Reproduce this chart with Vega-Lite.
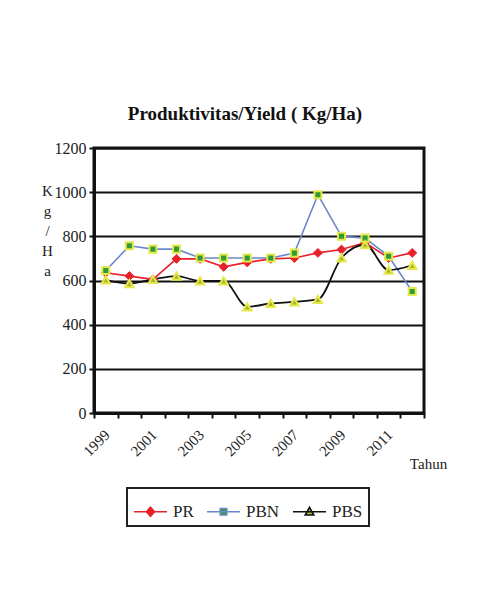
{
  "$schema": "https://vega.github.io/schema/vega-lite/v6.json",
  "autosize": "none",
  "width": 330,
  "height": 265,
  "padding": {"left": 94, "top": 148, "right": 63, "bottom": 179},
  "background": "white",
  "title": {
    "text": "Produktivitas/Yield ( Kg/Ha)",
    "font": "Liberation Serif",
    "fontSize": 19,
    "fontWeight": "bold",
    "color": "#111111",
    "anchor": "middle",
    "dx": -14,
    "offset": 16
  },
  "data": {
    "values": [
      {"year": 1999, "series": "PR", "value": 635},
      {"year": 2000, "series": "PR", "value": 620},
      {"year": 2001, "series": "PR", "value": 605},
      {"year": 2002, "series": "PR", "value": 698},
      {"year": 2003, "series": "PR", "value": 698},
      {"year": 2004, "series": "PR", "value": 662},
      {"year": 2005, "series": "PR", "value": 682},
      {"year": 2006, "series": "PR", "value": 698},
      {"year": 2007, "series": "PR", "value": 702},
      {"year": 2008, "series": "PR", "value": 725},
      {"year": 2009, "series": "PR", "value": 740},
      {"year": 2010, "series": "PR", "value": 772},
      {"year": 2011, "series": "PR", "value": 702},
      {"year": 2012, "series": "PR", "value": 725},
      {"year": 1999, "series": "PBN", "value": 645},
      {"year": 2000, "series": "PBN", "value": 757},
      {"year": 2001, "series": "PBN", "value": 742},
      {"year": 2002, "series": "PBN", "value": 742},
      {"year": 2003, "series": "PBN", "value": 702},
      {"year": 2004, "series": "PBN", "value": 702},
      {"year": 2005, "series": "PBN", "value": 702},
      {"year": 2006, "series": "PBN", "value": 702},
      {"year": 2007, "series": "PBN", "value": 724},
      {"year": 2008, "series": "PBN", "value": 988},
      {"year": 2009, "series": "PBN", "value": 800},
      {"year": 2010, "series": "PBN", "value": 792},
      {"year": 2011, "series": "PBN", "value": 710},
      {"year": 2012, "series": "PBN", "value": 550},
      {"year": 1999, "series": "PBS", "value": 603},
      {"year": 2000, "series": "PBS", "value": 586},
      {"year": 2001, "series": "PBS", "value": 605},
      {"year": 2002, "series": "PBS", "value": 620},
      {"year": 2003, "series": "PBS", "value": 598},
      {"year": 2004, "series": "PBS", "value": 598},
      {"year": 2005, "series": "PBS", "value": 481},
      {"year": 2006, "series": "PBS", "value": 496},
      {"year": 2007, "series": "PBS", "value": 503},
      {"year": 2008, "series": "PBS", "value": 514},
      {"year": 2009, "series": "PBS", "value": 702},
      {"year": 2010, "series": "PBS", "value": 762},
      {"year": 2011, "series": "PBS", "value": 647},
      {"year": 2012, "series": "PBS", "value": 669}
    ]
  },
  "encoding": {
    "x": {
      "field": "year",
      "type": "ordinal",
      "scale": {"paddingInner": 0, "paddingOuter": 0},
      "axis": {
        "title": "Tahun",
        "titleFont": "Liberation Serif",
        "titleFontSize": 15,
        "titleFontWeight": "normal",
        "titleColor": "#222222",
        "titleX": 334,
        "titleY": 50,
        "titleAlign": "center",
        "titleBaseline": "middle",
        "labelExpr": "datum.value % 2 == 1 ? datum.label : ''",
        "labelAngle": -45,
        "labelFont": "Liberation Serif",
        "labelFontSize": 15,
        "labelColor": "#222222",
        "labelPadding": 9,
        "labelOffset": -4,
        "labelOverlap": false,
        "tickBand": "extent",
        "tickColor": "#111111",
        "tickWidth": 2,
        "tickSize": 5,
        "domainColor": "#111111",
        "domainWidth": 3,
        "grid": false
      }
    },
    "y": {
      "field": "value",
      "type": "quantitative",
      "scale": {"domain": [0, 1200]},
      "axis": {
        "values": [0, 200, 400, 600, 800, 1000, 1200],
        "format": "d",
        "title": ["K", "g", "/", "H", "a"],
        "titleAngle": 0,
        "titleFont": "Liberation Serif",
        "titleFontSize": 15,
        "titleFontWeight": "normal",
        "titleColor": "#222222",
        "titleLineHeight": 20,
        "titleAlign": "center",
        "titleBaseline": "top",
        "titleX": -47,
        "titleY": 35,
        "labelFont": "Liberation Serif",
        "labelFontSize": 16,
        "labelColor": "#222222",
        "labelPadding": 3,
        "tickColor": "#111111",
        "tickWidth": 2,
        "tickSize": 5,
        "domainColor": "#111111",
        "domainWidth": 3,
        "grid": true,
        "gridColor": "#111111",
        "gridWidth": 2
      }
    }
  },
  "layer": [
    {
      "transform": [{"filter": "datum.series != 'PBS'"}],
      "mark": {"type": "line", "strokeWidth": 1.6},
      "encoding": {
        "stroke": {
          "field": "series",
          "type": "nominal",
          "scale": {"domain": ["PR", "PBN", "PBS"], "range": ["#e8202a", "#6b88cc", "#111111"]},
          "legend": {
            "encode": {
              "symbols": {
                "update": {
                  "shape": {"signal": "datum.value === 'PR' ? 'M-1,0H1M0,-0.27L0.24,0L0,0.27L-0.24,0Z' : datum.value === 'PBN' ? 'M-1,0H1M-0.2,-0.2H0.2V0.2H-0.2Z' : 'M-1,0H1M0,-0.27L0.26,0.2H-0.26Z'"},
                  "fill": {"signal": "datum.value === 'PR' ? '#e8202a' : datum.value === 'PBN' ? '#2f9a3a' : '#a8b832'"},
                  "fillOpacity": {"value": 1},
                  "strokeWidth": {"value": 1.6}
                }
              }
            }
          }
        }
      }
    },
    {
      "transform": [{"filter": "datum.series == 'PBS'"}],
      "mark": {"type": "line", "strokeWidth": 1.8, "interpolate": "monotone", "color": "#111111"},
      "encoding": {}
    },
    {
      "transform": [{"filter": "datum.series == 'PR'"}],
      "mark": {"type": "point", "shape": "diamond", "filled": true, "fill": "#e8202a", "stroke": "#e8202a", "strokeWidth": 1, "size": 80, "opacity": 1},
      "encoding": {}
    },
    {
      "transform": [{"filter": "datum.series == 'PBN'"}],
      "mark": {"type": "point", "shape": "square", "filled": true, "fill": "#2f9a3a", "stroke": "#e6e84a", "strokeWidth": 2, "size": 50, "opacity": 1},
      "encoding": {}
    },
    {
      "transform": [{"filter": "datum.series == 'PBS'"}],
      "mark": {"type": "point", "shape": "triangle-up", "filled": true, "fill": "#a8b832", "stroke": "#e6e84a", "strokeWidth": 2, "size": 70, "opacity": 1},
      "encoding": {}
    }
  ],
  "config": {
    "view": {"stroke": "#111111", "strokeWidth": 3},
    "legend": {
      "orient": "none",
      "legendX": 33,
      "legendY": 340,
      "direction": "horizontal",
      "title": null,
      "columns": 3,
      "symbolSize": 1089,
      "symbolStrokeWidth": 1.6,
      "labelFont": "Liberation Serif",
      "labelFontSize": 17,
      "labelColor": "#222222",
      "labelOffset": 5,
      "columnPadding": 9,
      "strokeColor": "#222222",
      "strokeWidth": 2,
      "padding": 6,
      "symbolOpacity": 1
    }
  }
}
